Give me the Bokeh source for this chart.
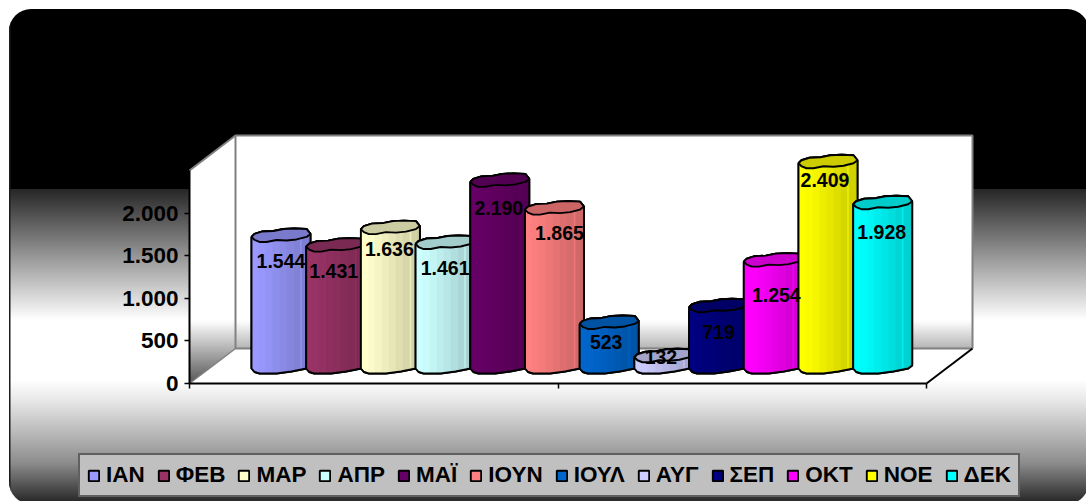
from bokeh.plotting import figure
from bokeh.models import (ColumnDataSource, Legend, LegendItem, FixedTicker, LinearAxis, Range1d, InlineStyleSheet)
from bokeh.core.properties import value
from bokeh.embed import file_html
from bokeh.resources import INLINE
import numpy as np

# ---------- data ----------
months = ["ΙΑΝ", "ΦΕΒ", "ΜΑΡ", "ΑΠΡ", "ΜΑΪ", "ΙΟΥΝ", "ΙΟΥΛ", "ΑΥΓ", "ΣΕΠ", "ΟΚΤ", "ΝΟΕ", "ΔΕΚ"]
values = [1544, 1431, 1636, 1461, 2190, 1865, 523, 132, 719, 1254, 2409, 1928]
value_labels = ["1.544", "1.431", "1.636", "1.461", "2.190", "1.865", "523", "132", "719", "1.254", "2.409", "1.928"]
colors = ["#9999FF", "#993366", "#FFFFCC", "#CCFFFF", "#660066", "#FF8080",
          "#0066CC", "#CCCCFF", "#000080", "#FF00FF", "#FFFF00", "#00FFFF"]
y_ticks = [0, 500, 1000, 1500, 2000]
y_tick_labels = ["0", "500", "1.000", "1.500", "2.000"]
y_max = 2500

# ---------- geometry (px per data unit) ----------
W, H = 1086, 501
PX_X = 54.7
PX_Y = 0.0852
ORIGIN_X, ORIGIN_Y = 189, 383      # where x0 / value 0 fall in the figure
FIRST_CENTER = 280.5
x0 = 1 - (FIRST_CENTER - ORIGIN_X) / PX_X
def dx(px): return px / PX_X
def dy(px): return px / PX_Y

p = figure(width=W, height=H, output_backend="svg", toolbar_location=None,
           x_range=Range1d(x0 - dx(ORIGIN_X), x0 + dx(W - ORIGIN_X)),
           y_range=Range1d(-dy(H - ORIGIN_Y), dy(ORIGIN_Y)),
           min_border=0,
           x_axis_type=None, y_axis_type=None,
           border_fill_color=None, background_fill_color=None, outline_line_color=None)
p.grid.visible = False
p.stylesheets = [InlineStyleSheet(css="""
:host {
  clip-path: inset(9px -3px -3px 9px round 22px);
  background:
    linear-gradient(#1c1c1c, #1c1c1c) 9px 0 / 1.5px 100% no-repeat,
    linear-gradient(to bottom, #000 0px, #000 189px, #262626 189px, #8a8a8a 249px,
     #fff 320px, #fff 380px, #e8e8e8 400px, #bdbdbd 430px, #8c8c8c 463px, #3a3a3a 495px, #2a2a2a 501px);
}
""")]

# ---------- 3D walls ----------
DEPTH_X, DEPTH_Y = dx(46), dy(35)
front_r = x0 + dx(926 - 189)
wx = x0 + DEPTH_X
wr = front_r + DEPTH_X
wb = DEPTH_Y
wt = y_max + DEPTH_Y

p.patch([wx, wr, wr, wx], [wb, wb, wt, wt], fill_color="#ffffff", line_color=None)
p.patch([x0, wx, wx, x0], [0, wb, wt, y_max], fill_color="#ffffff", line_color=None)

# wall shading: painted light to dark, each step covering everything below it
fade_top = dy(383 - 320)
levels = np.linspace(0, fade_top, 33)
def grey(t):
    c = int(round(255 - (255 - 85) * t))
    return "#%02x%02x%02x" % (c, c, c)
for a, b in zip(levels[:-1][::-1], levels[1:][::-1]):
    col = grey(1 - (a + b) / 2 / fade_top)
    if b > wb:
        p.quad(left=wx, right=wr, bottom=wb, top=b, fill_color=col, line_color=None)
    xb = min(x0 + DEPTH_X * b / DEPTH_Y, wx)
    p.patch([x0, wx, wx, xb, x0], [0, wb, max(b, wb), b, b], fill_color=col, line_color=None)
p.patch([x0, front_r, wr, wx], [0, 0, wb, wb], fill_color="#ffffff", line_color=None)

# wall edges
p.line([x0, wx, wr, wr], [y_max, wt, wt, wb], line_color="#808080", line_width=2)
p.line([wx, wx, wr], [wt, wb, wb], line_color="#808080", line_width=2)
p.line([x0, wx], [0, wb], line_color="#808080", line_width=1.5)
p.line([front_r, wr], [0, wb], line_color="#000000", line_width=2)

# ---------- axes ----------
yax = LinearAxis(ticker=FixedTicker(ticks=y_ticks), fixed_location=x0,
                 major_label_overrides={t: l for t, l in zip(y_ticks, y_tick_labels)},
                 bounds=(0, y_max), axis_line_color="#000000", axis_line_width=2,
                 major_tick_line_color="#000000", major_tick_line_width=1.5,
                 major_tick_in=0, major_tick_out=5, minor_tick_line_color=None,
                 major_label_standoff=6,
                 major_label_text_font="Liberation Sans", major_label_text_font_style="bold",
                 major_label_text_font_size="22.5px", major_label_text_color="#000000")
p.add_layout(yax, "left")
x_tick_pos = [x0, (x0 + front_r) / 2, front_r]
xax = LinearAxis(ticker=FixedTicker(ticks=x_tick_pos), fixed_location=0,
                 major_label_overrides={t: "" for t in x_tick_pos},
                 bounds=(x0, front_r), axis_line_color="#000000", axis_line_width=2,
                 major_tick_line_color="#000000", major_tick_line_width=1.5,
                 major_tick_in=0, major_tick_out=5, minor_tick_line_color=None,
                 major_label_text_font_size="1px")
p.add_layout(xax, "below")

# ---------- cylinders ----------
BAR_W = 59.0
BASE_LIFT = dy(15)
OUTLINE = 1.9
top_front = np.array([(0, 0), (3, 3), (8, 5), (15, 5), (25, 3), (35, 3.5), (45, 2.5), (55, 0), (59, -3)], float)
top_back = np.array([(59, -3), (55, -8), (43, -8.5), (32, -8), (22, -6), (11, -5.5), (3, -3), (0, 0)], float)
bot_arc = np.array([(0, 0), (3, 3.5), (8, 5), (25, 5), (40, 3), (55, 0), (59, -3)], float)
bands = [0, 7, 14, 21, 28, 35, 42, 49, 50.5, 56, 59]
shades = [1.0, 0.985, 0.96, 0.93, 0.90, 0.87, 0.84, 0.93, 0.82, 0.80]
TOP_SHADE = 0.8

def rgb(h): return np.array([int(h[i:i + 2], 16) for i in (1, 3, 5)], float)
def hexc(c): return "#%02x%02x%02x" % tuple(int(round(min(v, 255))) for v in c)

legend_items = []
for i, (m, v, c) in enumerate(zip(months, values, colors)):
    cx = i + 1
    lx = cx - dx(BAR_W / 2)
    ytop = BASE_LIFT + v
    ybot = BASE_LIFT
    X = lambda a: lx + dx(np.asarray(a))
    top_y = lambda a: ytop - dy(np.asarray(a))
    bot_y = lambda a: ybot - dy(np.asarray(a))
    out_x = list(X(top_back[::-1, 0])) + list(X(bot_arc[::-1, 0]))
    out_y = list(top_y(top_back[::-1, 1])) + list(bot_y(bot_arc[::-1, 1]))
    sil = p.patch(out_x, out_y, fill_color=c, line_color="#000000", line_width=OUTLINE)
    legend_items.append(LegendItem(label=m, renderers=[sil]))
    sxs, sys, scs = [], [], []
    base = rgb(c)
    for b0, b1, s in zip(bands[:-1], bands[1:], shades):
        t0, t1 = np.interp([b0, b1], top_front[:, 0], top_front[:, 1])
        u0, u1 = np.interp([b0, b1], bot_arc[:, 0], bot_arc[:, 1])
        sxs.append(list(X([b0, b1, b1, b0])))
        sys.append([float(top_y(t0)), float(top_y(t1)), float(bot_y(u1)), float(bot_y(u0))])
        scs.append(hexc(base * s))
    src = ColumnDataSource(dict(xs=sxs, ys=sys, color=scs))
    p.patches("xs", "ys", source=src, fill_color="color", line_color="color", line_width=0.3)
    p.line(out_x + out_x[:1], out_y + out_y[:1], line_color="#000000", line_width=OUTLINE)
    top_x = list(X(top_front[:, 0])) + list(X(top_back[1:, 0]))
    top_yy = list(top_y(top_front[:, 1])) + list(top_y(top_back[1:, 1]))
    p.patch(top_x, top_yy, fill_color=hexc(base * TOP_SHADE), line_color="#000000", line_width=OUTLINE)

# ---------- value labels ----------
nudge_x = [0, -2, -1, 0, -1, 5, -3, -3, 0, 3, -3, -1]
nudge_y = [24, 24, 20, 24, 26, 23, 18, 0, 25, 33, 17, 28]
lab_x = [i + 1 + dx(n) for i, n in enumerate(nudge_x)]
lab_y = [BASE_LIFT + v - dy(n) for v, n in zip(values, nudge_y)]
p.text(lab_x, lab_y, text=value_labels, text_align="center", text_baseline="middle",
       text_font=value("Liberation Sans"), text_font_style="bold", text_font_size="19.5px",
       text_color="#000000")

# ---------- legend ----------
legend = Legend(items=legend_items, orientation="horizontal", location=(78, 501 - 497),
                margin=0, padding=7, spacing=12, label_standoff=6,
                glyph_width=13, glyph_height=13,
                label_text_font="Liberation Sans", label_text_font_style="bold",
                label_text_font_size="22.5px", label_text_color="#000000",
                background_fill_color="#c0c0c0", background_fill_alpha=1,
                border_line_color="#000000", border_line_width=2)
p.add_layout(legend)

open("out.html", "w").write(file_html(p, INLINE))
